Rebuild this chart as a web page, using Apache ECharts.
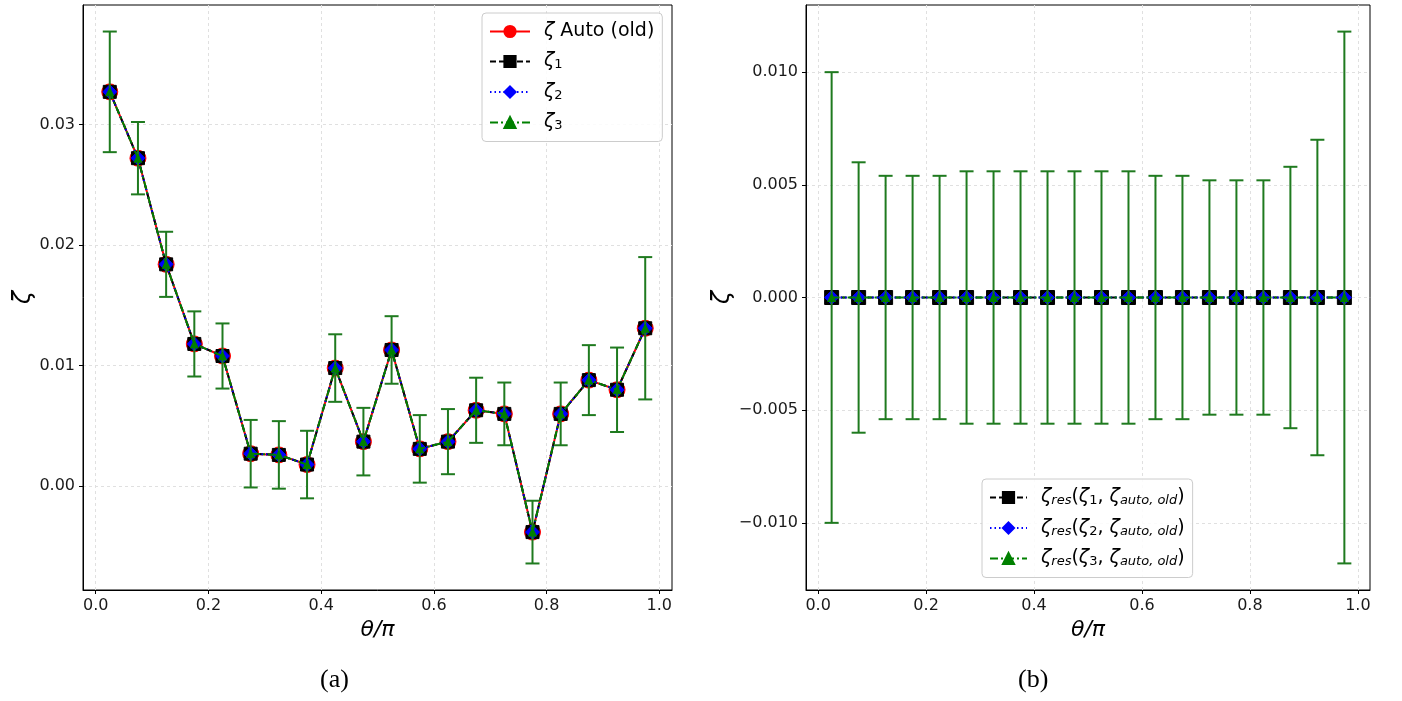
<!DOCTYPE html>
<html><head><meta charset="utf-8">
<script src="https://cdn.jsdelivr.net/npm/echarts@6/dist/echarts.min.js"></script>
<style>html,body{margin:0;padding:0;background:#fff}#c{width:1402px;height:701px}</style>
</head><body><div id="c"></div>
<script>
// ---- data ----
const theta = [0.025,0.075,0.125,0.175,0.225,0.275,0.325,0.375,0.425,0.475,0.525,0.575,0.625,0.675,0.725,0.775,0.825,0.875,0.925,0.975];
const zetaAuto = [0.0327,0.0272,0.0184,0.0118,0.0108,0.0027,0.0026,0.0018,0.0098,0.0037,0.0113,0.0031,0.0037,0.0063,0.0060,-0.0038,0.0060,0.0088,0.0080,0.0131];
const zeta1 = [0.0327,0.0272,0.0184,0.0118,0.0108,0.0027,0.0026,0.0018,0.0098,0.0037,0.0113,0.0031,0.0037,0.0063,0.0060,-0.0038,0.0060,0.0088,0.0080,0.0131];
const zeta2 = [0.0327,0.0272,0.0184,0.0118,0.0108,0.0027,0.0026,0.0018,0.0098,0.0037,0.0113,0.0031,0.0037,0.0063,0.0060,-0.0038,0.0060,0.0088,0.0080,0.0131];
const zeta3 = [0.0327,0.0272,0.0184,0.0118,0.0108,0.0027,0.0026,0.0018,0.0098,0.0037,0.0113,0.0031,0.0037,0.0063,0.0060,-0.0038,0.0060,0.0088,0.0080,0.0131];
const errLeft = [0.0050,0.0030,0.0027,0.0027,0.0027,0.0028,0.0028,0.0028,0.0028,0.0028,0.0028,0.0028,0.0027,0.0027,0.0026,0.0026,0.0026,0.0029,0.0035,0.0059];
const res1 = [0,0,0,0,0,0,0,0,0,0,0,0,0,0,0,0,0,0,0,0];
const res2 = [0,0,0,0,0,0,0,0,0,0,0,0,0,0,0,0,0,0,0,0];
const res3 = [0,0,0,0,0,0,0,0,0,0,0,0,0,0,0,0,0,0,0,0];
const errRight = [0.0100,0.0060,0.0054,0.0054,0.0054,0.0056,0.0056,0.0056,0.0056,0.0056,0.0056,0.0056,0.0054,0.0054,0.0052,0.0052,0.0052,0.0058,0.0070,0.0118];
const xTicks = [0,0.2,0.4,0.6,0.8,1.0];
const yTicksLeft = [0,0.01,0.02,0.03];
const yTicksRight = [-0.01,-0.005,0,0.005,0.01];

// ---- styling ----
const FONT = 'DejaVu Sans';
const GREEN = '#008000', ERRC = '#1f7a1f';
const gridLine = {show:true, lineStyle:{color:'#e0e0e0', type:[3,3], width:1}};

function pairs(ys){ return theta.map((x,i)=>[x, ys[i]]); }
function triples(ys, es){ return theta.map((x,i)=>[x, ys[i], es[i]]); }

function xAxisCfg(idx){
  return {type:'value', gridIndex:idx, min:-0.0225, max:1.0225,
    name:'θ/π', nameLocation:'middle', nameGap:27,
    nameTextStyle:{fontFamily:FONT, fontSize:22, fontStyle:'italic', color:'#000'},
    axisLine:{show:true, onZero:false, lineStyle:{color:'#000', width:1}},
    axisTick:{show:true, length:4, customValues:xTicks, lineStyle:{color:'#000'}},
    axisLabel:{customValues:xTicks, margin:8, fontFamily:FONT, fontSize:16, color:'#1a1a1a', formatter:v=>v.toFixed(1)},
    splitLine:gridLine};
}
function yAxisCfg(idx, mn, mx, ticks, fmt, gap){
  return {type:'value', gridIndex:idx, min:mn, max:mx,
    name:'ζ', nameLocation:'middle', nameGap:gap,
    nameTextStyle:{fontFamily:FONT, fontSize:24, fontStyle:'italic', color:'#000'},
    axisLine:{show:true, onZero:false, lineStyle:{color:'#000', width:1}},
    axisTick:{show:true, length:4, customValues:ticks, lineStyle:{color:'#000'}},
    axisLabel:{customValues:ticks, margin:8, fontFamily:FONT, fontSize:16, color:'#1a1a1a', formatter:fmt},
    splitLine:gridLine};
}
function errRender(params, api){
  const x = api.value(0), y = api.value(1), e = api.value(2);
  const p1 = api.coord([x, y+e]), p2 = api.coord([x, y-e]);
  const hw = 7, st = {stroke:ERRC, lineWidth:2};
  return {type:'group', children:[
    {type:'line', shape:{x1:p1[0],y1:p1[1],x2:p2[0],y2:p2[1]}, style:st},
    {type:'line', shape:{x1:p1[0]-hw,y1:p1[1],x2:p1[0]+hw,y2:p1[1]}, style:st},
    {type:'line', shape:{x1:p2[0]-hw,y1:p2[1],x2:p2[0]+hw,y2:p2[1]}, style:st}
  ]};
}
function lineSeries(name, idx, ys, color, symbol, size, ltype, z){
  return {type:'line', name:name, xAxisIndex:idx, yAxisIndex:idx, data:pairs(ys),
    symbol:symbol, symbolSize:size, showAllSymbol:true, z:z,
    itemStyle:{color:color, borderColor:color, borderWidth:1, opacity:1},
    lineStyle:{color:color, width:2, type:ltype}, emphasis:{disabled:true}};
}
function errSeries(idx, ys, es, z){
  return {type:'custom', xAxisIndex:idx, yAxisIndex:idx, data:triples(ys, es),
    encode:{x:0, y:1}, renderItem:errRender, z:z, silent:true};
}

const legendLabels = {
  'auto':'{g|ζ}{n| Auto (old)}',
  'z1':'{g|ζ}{s|1}',
  'z2':'{g|ζ}{s|2}',
  'z3':'{g|ζ}{s|3}',
  'r1':'{g|ζ}{si|res}{n|(}{g|ζ}{s|1}{n|, }{g|ζ}{si|auto, old}{n|)}',
  'r2':'{g|ζ}{si|res}{n|(}{g|ζ}{s|2}{n|, }{g|ζ}{si|auto, old}{n|)}',
  'r3':'{g|ζ}{si|res}{n|(}{g|ζ}{s|3}{n|, }{g|ζ}{si|auto, old}{n|)}'
};
const rich = {
  g:{fontFamily:FONT, fontSize:19, fontStyle:'italic', color:'#000', lineHeight:20},
  n:{fontFamily:FONT, fontSize:19, color:'#000', lineHeight:20},
  s:{fontFamily:FONT, fontSize:13, color:'#000', lineHeight:12, verticalAlign:'bottom'},
  si:{fontFamily:FONT, fontSize:13, fontStyle:'italic', color:'#000', lineHeight:12, verticalAlign:'bottom'}
};
function legendCfg(names, left, top, iw){
  return {data:names, orient:'vertical', left:left, top:top, itemWidth:iw, itemHeight:14, itemGap:11,
    padding:[9,8,9,7], borderColor:'#cccccc', borderWidth:1, borderRadius:4,
    backgroundColor:'rgba(255,255,255,0.85)', selectedMode:false,
    formatter:n=>legendLabels[n],
    textStyle:{fontFamily:FONT, fontSize:19, color:'#000', padding:[0,0,0,9], rich:rich}};
}

const option = {
  animation:false,
  backgroundColor:'#fff',
  grid:[
    {left:83, right:730, top:5, bottom:111, show:true, borderColor:'#000', borderWidth:1, backgroundColor:'transparent'},
    {left:806, right:32, top:5, bottom:111, show:true, borderColor:'#000', borderWidth:1, backgroundColor:'transparent'}
  ],
  xAxis:[xAxisCfg(0), xAxisCfg(1)],
  yAxis:[
    yAxisCfg(0, -0.0086, 0.0399, yTicksLeft, v=>v.toFixed(2), 44),
    yAxisCfg(1, -0.01298, 0.01298, yTicksRight, v=>(v < -1e-9 ? '\u2212' : '') + Math.abs(v).toFixed(3), 52)
  ],
  legend:[
    legendCfg(['auto','z1','z2','z3'], 482, 13, 40),
    legendCfg(['r1','r2','r3'], 982, 479, 37)
  ],
  series:[
    lineSeries('auto', 0, zetaAuto, '#ff0000', 'circle', 16, 'solid', 2),
    lineSeries('z1', 0, zeta1, '#000000', 'rect', 13, [6,3], 3),
    lineSeries('z2', 0, zeta2, '#0000ff', 'diamond', 14, [1.5,3], 4),
    errSeries(0, zeta3, errLeft, 5),
    lineSeries('z3', 0, zeta3, GREEN, 'triangle', 8, [8,3,2,3], 6),
    lineSeries('r1', 1, res1, '#000000', 'rect', 14, [6,3], 3),
    lineSeries('r2', 1, res2, '#0000ff', 'diamond', 14, [1.5,3], 4),
    errSeries(1, res3, errRight, 5),
    lineSeries('r3', 1, res3, GREEN, 'triangle', 8, [8,3,2,3], 6)
  ],
  graphic:[
    {type:'text', left:320, top:667, style:{text:'(a)', font:'26px "Liberation Serif"', fill:'#000'}},
    {type:'text', left:1018, top:667, style:{text:'(b)', font:'26px "Liberation Serif"', fill:'#000'}}
  ]
};
const chart = echarts.init(document.getElementById('c'), null, {renderer:'canvas'});
chart.setOption(option);
</script></body></html>
